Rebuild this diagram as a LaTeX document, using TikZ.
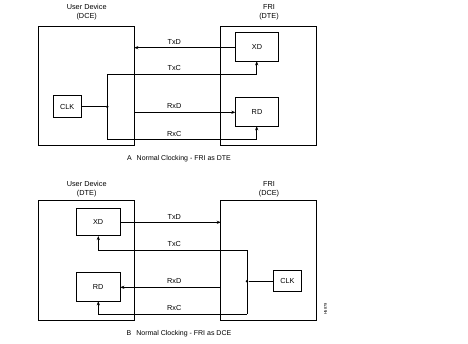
\documentclass[tikz,border=0pt]{standalone}
\usepackage{fontspec}
\setmainfont{Liberation Sans}
\usetikzlibrary{arrows.meta}
\begin{document}
\begin{tikzpicture}[x=1pt,y=-1pt,
  line width=0.7pt,
  box/.style={draw,line width=0.7pt},
  lbl/.style={font=\fontsize{7.3}{8.5}\selectfont,inner sep=0pt},
  captxt/.style={font=\fontsize{7}{8}\selectfont,inner sep=0pt},
  sig/.style={-{Stealth[length=4pt,width=3.2pt]}},
  dot/.style={circle,fill,inner sep=0pt,minimum size=2.8pt}]
\useasboundingbox (0,0) rectangle (468,343);
% ---------- A ----------
\draw[box] (38.3,26) rectangle (134.3,145.3);
\draw[box] (220.7,26) rectangle (316,145.3);
\coordinate (aLR) at (134.3,47.7);
\coordinate (aLR2) at (134.3,112.3);
\node[lbl,align=center] (aUD) at (86.7,12) {User Device\\(DCE)};
\node[lbl,align=center] (aFRI) at (269,12) {FRI\\(DTE)};
\node[box,minimum width=42.6pt,minimum height=28.7pt,inner sep=0pt,lbl] (aXD) at (257,46.65) {XD};
\node[box,minimum width=42.6pt,minimum height=28.7pt,inner sep=0pt,lbl] (aRD) at (257,111.65) {RD};
\node[box,minimum width=28.3pt,minimum height=21.6pt,inner sep=0pt,lbl] (aCLK) at (67.15,106.5) {CLK};
\node[dot] (aJ) at (107.3,106.7) {};
\coordinate (aT) at (107.3,74.7);
\coordinate (aB) at (107.3,139.3);
\draw[sig] (aXD.west|-aLR) -- (aLR);
\draw (aCLK.east|-aJ) -- (aJ);
\draw (aT) -- (aB);
\draw[sig] (aT) -- (aT-|256.7,0) -- (256.7,0|-aXD.south);
\draw[sig] (aB) -- (aB-|256.7,0) -- (256.7,0|-aRD.south);
\draw[sig] (aLR2) -- (aRD.west|-aLR2);
\node[lbl] (aTxD) at (174.3,41.7) {TxD};
\node[lbl] (aTxC) at (174.3,68.3) {TxC};
\node[lbl] (aRxD) at (174.3,106) {RxD};
\node[lbl] (aRxC) at (174.3,134) {RxC};
\node[captxt] (aCap) at (179,159) {A\hspace{3pt} Normal Clocking - FRI as DTE};
% ---------- B ----------
\draw[box] (38.3,200.7) rectangle (134.3,320.7);
\draw[box] (220.7,200.7) rectangle (316,320.7);
\coordinate (bRL) at (220.7,222.3);
\coordinate (bRL2) at (220.7,287.3);
\node[lbl,align=center] (bUD) at (86.7,189) {User Device\\(DTE)};
\node[lbl,align=center] (bFRI) at (269,189) {FRI\\(DCE)};
\node[box,minimum width=43.7pt,minimum height=27.4pt,inner sep=0pt,lbl] (bXD) at (98.15,222) {XD};
\node[box,minimum width=43.7pt,minimum height=28.3pt,inner sep=0pt,lbl] (bRD) at (98.15,286.85) {RD};
\node[box,minimum width=28.4pt,minimum height=21.7pt,inner sep=0pt,lbl] (bCLK) at (287.5,280.85) {CLK};
\node[dot] (bJ) at (247,281.3) {};
\coordinate (bT) at (247,250);
\coordinate (bB) at (247,314.3);
\draw[sig] (bXD.east|-bRL) -- (bRL);
\draw (bCLK.west|-bJ) -- (bJ);
\draw (bT) -- (bB);
\draw[sig] (bT) -- (bT-|98.3,0) -- (98.3,0|-bXD.south);
\draw[sig] (bB) -- (bB-|98.3,0) -- (98.3,0|-bRD.south);
\draw[sig] (bRL2) -- (bRD.east|-bRL2);
\node[lbl] (bTxD) at (174.3,216.7) {TxD};
\node[lbl] (bTxC) at (174.3,244) {TxC};
\node[lbl] (bRxD) at (174.3,281) {RxD};
\node[lbl] (bRxC) at (174.3,307.7) {RxC};
\node[captxt] (bCap) at (179,333.3) {B\hspace{3pt} Normal Clocking - FRI as DCE};
\node[font=\fontsize{4}{4}\selectfont,inner sep=0pt,rotate=90] (fig) at (325.5,309) {H5879};
\end{tikzpicture}
\end{document}
